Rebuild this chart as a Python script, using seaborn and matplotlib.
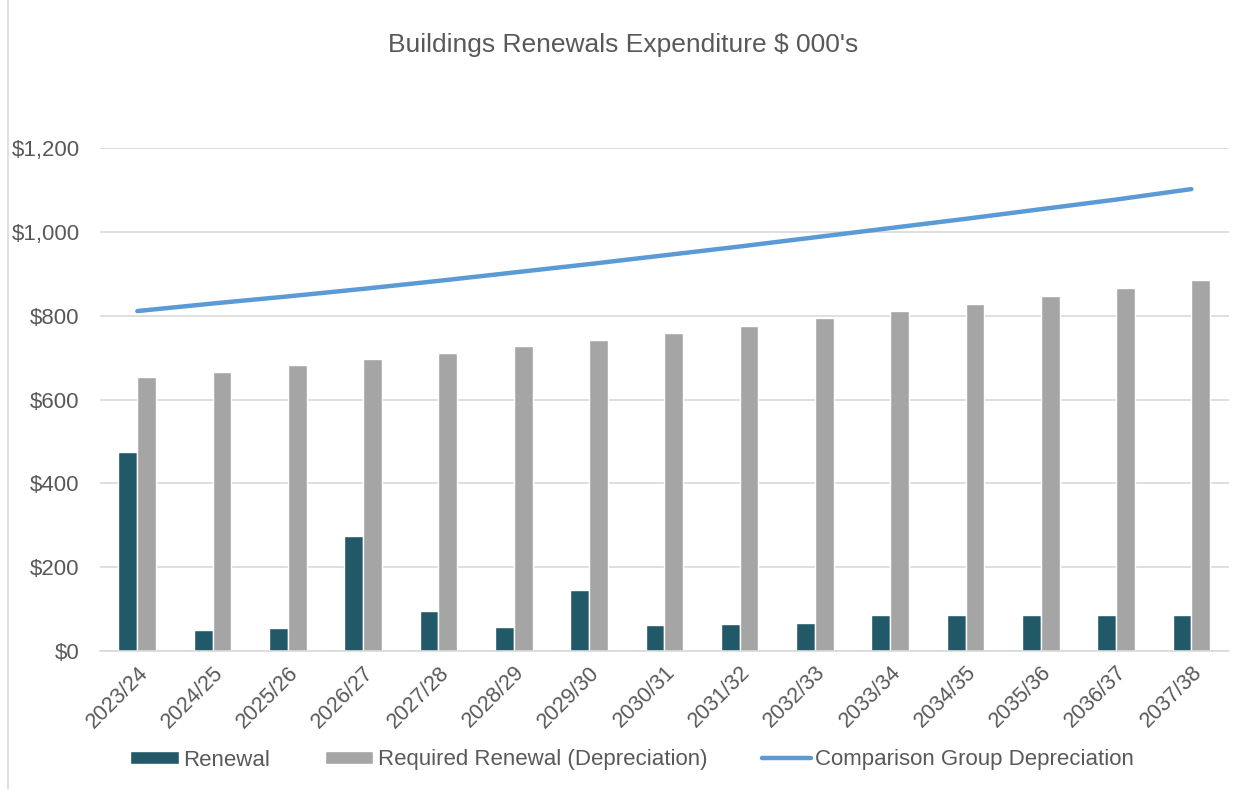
import matplotlib.pyplot as plt
import matplotlib.ticker as mticker
import numpy as np
import pandas as pd
import seaborn as sns

years = ["2023/24", "2024/25", "2025/26", "2026/27", "2027/28", "2028/29", "2029/30",
         "2030/31", "2031/32", "2032/33", "2033/34", "2034/35", "2035/36", "2036/37", "2037/38"]
renewal = [475, 51, 54, 275, 95, 57, 146, 62, 64, 66, 85, 85, 85, 85, 85]
required = [653, 666, 682, 696, 711, 728, 742, 759, 775, 794, 811, 829, 848, 866, 885]
comparison = [811, 829, 846, 864, 883, 903, 923, 944, 965, 987, 1009, 1031, 1054, 1077, 1102]

bar_colors = {"Renewal": "#215968", "Required Renewal (Depreciation)": "#A5A5A5"}
line_color = "#5B9BD5"
text_color = "#595959"
grid_color = "#D9D9D9"

sns.set_style("white")
plt.rcParams['font.family'] = ['Liberation Sans', 'DejaVu Sans']

df = pd.DataFrame({"year": years, "Renewal": renewal,
                   "Required Renewal (Depreciation)": required})
long_df = df.melt(id_vars="year", var_name="series", value_name="value")

fig = plt.figure(figsize=(12.49, 7.89), dpi=100)
ax = fig.add_axes([0.0798, 0.1749, 0.9042, 0.6375])

sns.barplot(data=long_df, x="year", y="value", hue="series", order=years,
            palette=bar_colors, width=0.5, ax=ax, saturation=1, legend=True)
sns.lineplot(x=np.arange(len(years)), y=comparison, color=line_color, linewidth=3.2,
             ax=ax, label="Comparison Group Depreciation", solid_capstyle="round")

ax.set_xlim(-0.5, len(years) - 0.5)
ax.set_ylim(0, 1200)
ax.yaxis.set_major_locator(mticker.MultipleLocator(200))
ax.yaxis.set_major_formatter(mticker.FuncFormatter(lambda v, p: "\\$" + f"{v:,.0f}"))
ax.grid(axis="y", color=grid_color, linewidth=1.2)
ax.set_axisbelow(True)
for side in ["left", "right", "top"]:
    ax.spines[side].set_visible(False)
ax.spines["bottom"].set_color(grid_color)
ax.spines["bottom"].set_linewidth(1.2)
ax.set_xlabel("")
ax.set_ylabel("")
ax.tick_params(axis="both", length=0, colors=text_color)
ax.tick_params(axis="y", pad=14.4, labelsize=16)
ax.tick_params(axis="x", pad=8, labelsize=15.5)
plt.setp(ax.get_xticklabels(), rotation=45, ha="right", rotation_mode="anchor")

handles, labels = ax.get_legend_handles_labels()
ax.get_legend().remove()
fig.legend(handles, labels, loc="center", bbox_to_anchor=(0.506, 1 - 760 / 789), ncol=3,
           frameon=False, fontsize=16, labelcolor=text_color, handlelength=2.2,
           handleheight=0.55, handletextpad=0.2, columnspacing=2.45)

fig.text(0.499, 1 - 45 / 789, "Buildings Renewals Expenditure \\$ 000's", ha="center",
         va="center", fontsize=19, color=text_color)
fig.add_artist(plt.Line2D([0.0064, 0.0064], [0, 1], color=grid_color, linewidth=1.2))

fig.savefig("out.png", dpi=100)
